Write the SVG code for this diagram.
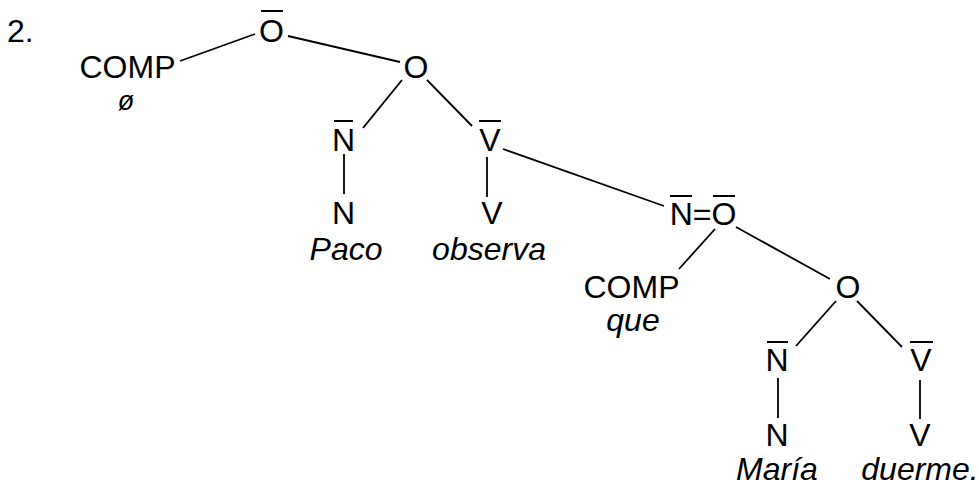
<svg xmlns="http://www.w3.org/2000/svg" width="979" height="489" viewBox="0 0 979 489">
<style>
text { font-family: "Liberation Sans", Arial, sans-serif; font-size: 32px; fill: #000; text-anchor: middle; }
.it { font-style: italic; }
.bar { stroke: #000; stroke-width: 2; }
#edges line { stroke: #000; stroke-width: 1.8; }
</style>
<rect width="979" height="489" fill="#fff"/>
<g id="label"><text x="7" y="42" style="text-anchor:start">2.</text></g>
<g id="comp1"><text x="127.5" y="78">COMP</text><text class="it" x="126" y="110" style="font-size:27px">ø</text></g>
<g id="obar1"><text x="271.5" y="42">O</text><line class="bar" x1="261" y1="11" x2="283" y2="11"/></g>
<g id="o1"><text x="416" y="78">O</text></g>
<g id="nbar1"><text x="343.5" y="151">N</text><line class="bar" x1="334" y1="121" x2="353" y2="121"/></g>
<g id="vbar1"><text x="490" y="151">V</text><line class="bar" x1="479" y1="121" x2="501" y2="121"/></g>
<g id="n1"><text x="343.5" y="224">N</text><text class="it" x="346" y="260">Paco</text></g>
<g id="v1"><text x="492" y="224">V</text><text class="it" x="489" y="260">observa</text></g>
<g id="nobar"><text x="703" y="225">N=O</text><line class="bar" x1="670" y1="196" x2="692" y2="196"/><line class="bar" x1="713" y1="196" x2="735" y2="196"/></g>
<g id="comp2"><text x="631.5" y="298">COMP</text><text class="it" x="633" y="331">que</text></g>
<g id="o2"><text x="848" y="298">O</text></g>
<g id="nbar2"><text x="777" y="371">N</text><line class="bar" x1="767" y1="342" x2="788" y2="342"/></g>
<g id="vbar2"><text x="921" y="371">V</text><line class="bar" x1="910" y1="342" x2="933" y2="342"/></g>
<g id="n2"><text x="777" y="446">N</text><text class="it" x="777" y="480">María</text></g>
<g id="v2"><text x="920" y="446">V</text><text class="it" x="920" y="480">duerme.</text></g>
<g id="edges">
<line x1="180" y1="61" x2="255" y2="34"/>
<line x1="288" y1="36" x2="400" y2="62"/>
<line x1="402" y1="80" x2="363" y2="128"/>
<line x1="427" y1="80" x2="472" y2="126"/>
<line x1="344" y1="154" x2="344" y2="194"/>
<line x1="487" y1="157" x2="487" y2="197"/>
<line x1="503" y1="149" x2="664" y2="206"/>
<line x1="715" y1="229" x2="679" y2="269"/>
<line x1="736" y1="227" x2="830" y2="279"/>
<line x1="836" y1="301" x2="796" y2="346"/>
<line x1="857" y1="301" x2="902" y2="347"/>
<line x1="778" y1="378" x2="778" y2="418"/>
<line x1="920" y1="380" x2="920" y2="419"/>
</g>
</svg>
